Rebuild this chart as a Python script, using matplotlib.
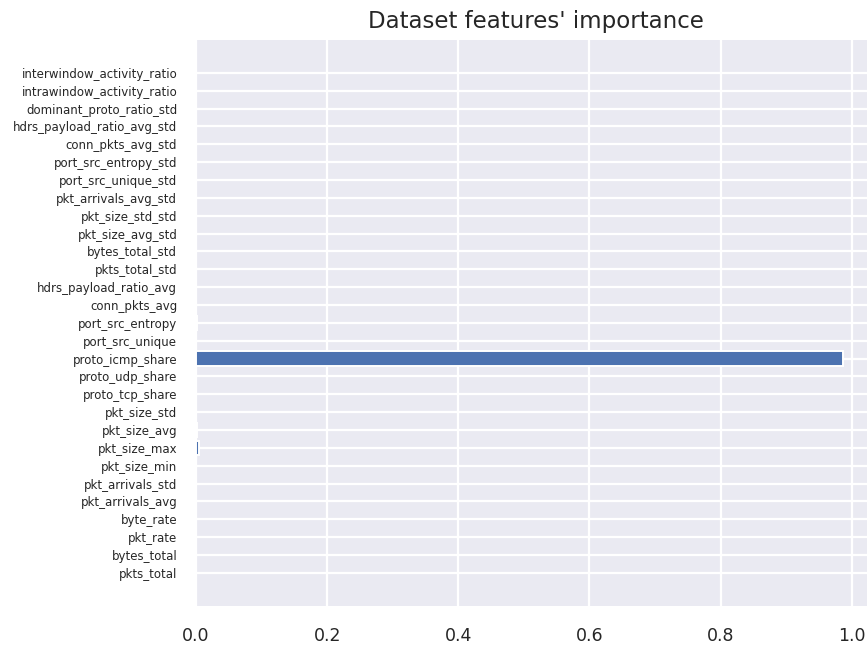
import numpy as np
import matplotlib
matplotlib.use("Agg")
import matplotlib.pyplot as plt
import seaborn as sns

# features listed bottom -> top as they appear on the chart
features = ["pkts_total", "bytes_total", "pkt_rate", "byte_rate",
            "pkt_arrivals_avg", "pkt_arrivals_std", "pkt_size_min",
            "pkt_size_max", "pkt_size_avg", "pkt_size_std",
            "proto_tcp_share", "proto_udp_share", "proto_icmp_share",
            "port_src_unique", "port_src_entropy", "conn_pkts_avg",
            "hdrs_payload_ratio_avg", "pkts_total_std", "bytes_total_std",
            "pkt_size_avg_std", "pkt_size_std_std", "pkt_arrivals_avg_std",
            "port_src_unique_std", "port_src_entropy_std", "conn_pkts_avg_std",
            "hdrs_payload_ratio_avg_std", "dominant_proto_ratio_std",
            "intrawindow_activity_ratio", "interwindow_activity_ratio"]
importance = [0.0, 0.0, 0.0, 0.0,
              0.0, 0.0, 0.0,
              0.0045, 0.0015, 0.0,
              0.0, 0.0, 0.986,
              0.0, 0.001, 0.0,
              0.0, 0.0, 0.0,
              0.0, 0.0, 0.0,
              0.0, 0.0, 0.0,
              0.0, 0.0,
              0.0, 0.0]

sns.set_style("darkgrid")
plt.rcParams["font.family"] = ["DejaVu Sans"]

fig = plt.figure(figsize=(8.67, 6.46), dpi=100)
# axes runs past the right edge like the cropped original
ax = fig.add_axes([0.2261, 0.0624, 0.783, 0.8756])

y = np.arange(len(features))
ax.barh(y, importance, height=0.8, color="#4C72B0", edgecolor="white", linewidth=1.4)
ax.set_yticks(y)
ax.set_yticklabels(features)
ax.set_xticks([0.0, 0.2, 0.4, 0.6, 0.8, 1.0])
ax.set_xticklabels(["0.0", "0.2", "0.4", "0.6", "0.8", "1.0"])
ax.set_xlim(0, max(importance) * 1.05)
ax.set_ylim(-1.84, len(features) - 1 + 1.84)

ax.grid(True, color="white", linewidth=1.6)
ax.tick_params(axis="y", labelsize=8.5, pad=13.5, length=0, colors="#262626")
ax.tick_params(axis="x", labelsize=12.5, pad=15.5, length=0, colors="#262626")
for s in ax.spines.values():
    s.set_visible(False)

ax.set_title("Dataset features' importance", fontsize=16.5, color="#262626", pad=8.6)

fig.savefig("out.png", dpi=100)
